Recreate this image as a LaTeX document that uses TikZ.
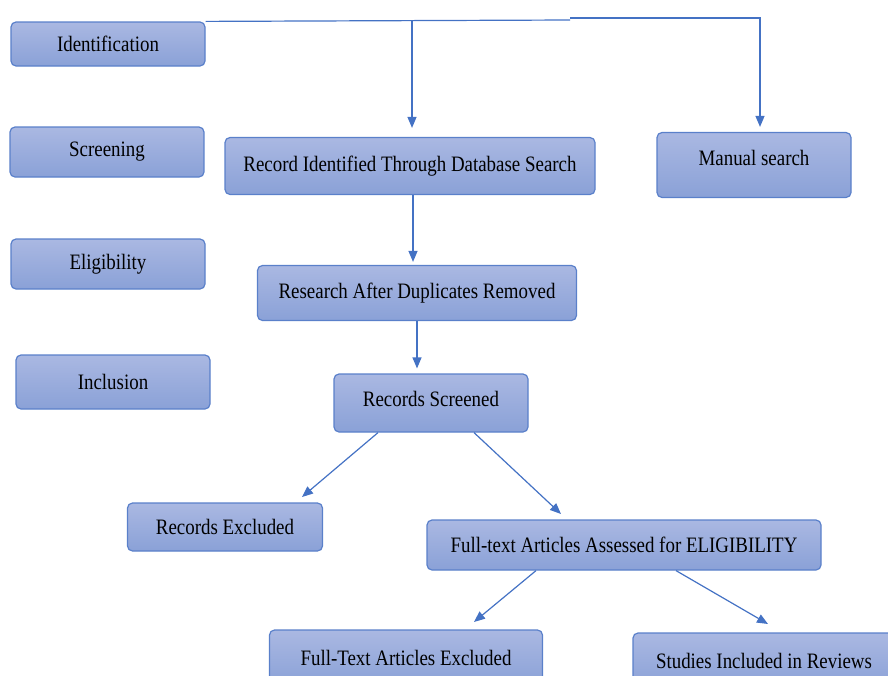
\documentclass[tikz,border=0pt]{standalone}
\usepackage{fontspec}
\setmainfont{Liberation Serif}[FakeStretch=0.86]
\usetikzlibrary{arrows.meta}
\definecolor{boxtop}{HTML}{AAB8E2}
\definecolor{boxbot}{HTML}{8AA1D7}
\definecolor{boxline}{HTML}{5A80CA}
\definecolor{flow}{HTML}{4472C4}
\tikzset{
    stagebox/.style = {rectangle, rounded corners=5pt, draw=boxline, line width=1.2pt,
        top color=boxtop, bottom color=boxbot, align=center, inner sep=0pt,
        font=\fontsize{22}{25}\selectfont},
    edgen/.style = {-{Triangle[length=11pt,width=9pt]}, line width=1.2pt, flow},
    edgel/.style = {line width=1.2pt, flow}
}
\begin{document}
\begin{tikzpicture}[x=1pt,y=-1pt]
  \useasboundingbox (0,0) rectangle (888,675);
  \clip (0,0) rectangle (888,675);

  % phases
  \node[stagebox, minimum width=194pt, minimum height=44pt] (ident) at (108,44) {Identification};
  \node[stagebox, minimum width=194pt, minimum height=50pt] (screen) at (107,152) {Screening};
  \node[stagebox, minimum width=194pt, minimum height=50pt] (elig) at (108,264) {Eligibility};
  \node[stagebox, minimum width=194pt, minimum height=54pt] (incl) at (113,382) {Inclusion};

  % flow
  \node[stagebox, minimum width=370pt, minimum height=57pt] (dbsearch) at (410,166) {Record Identified Through Database Search};
  \node[stagebox, minimum width=194pt, minimum height=65pt, text depth=14pt] (manual) at (754,165) {Manual search};
  \node[stagebox, minimum width=319pt, minimum height=55pt] (dupl) at (417,293) {Research After Duplicates Removed};
  \node[stagebox, minimum width=194pt, minimum height=58pt, text depth=8pt] (screened) at (431,403) {Records Screened};
  \node[stagebox, minimum width=195pt, minimum height=48pt] (recexcl) at (225,527) {Records Excluded};
  \node[stagebox, minimum width=394pt, minimum height=50pt] (assessed) at (624,545) {Full-text Articles Assessed for ELIGIBILITY};
  \node[stagebox, minimum width=273pt, minimum height=56pt] (ftexcl) at (406,658) {Full-Text Articles Excluded};
  \node[stagebox, minimum width=262pt, minimum height=56pt] (included) at (764,661) {Studies Included in Reviews};

  % connectors
  \coordinate (jog) at (570,20);
  \coordinate (split) at (412,20);
  \coordinate (corner) at (760,18);
  \draw[edgel] (ident.north east) -- (jog);
  \draw[edgen, shorten >=5pt] (jog) ++(0,-2) -- (corner) -- (manual.north -| corner);
  \draw[edgen, shorten >=9pt] (split) -- (dbsearch.north -| split);
  \draw[edgen, shorten >=3pt] (dbsearch.south -| 413,0) -- (dupl.north -| 413,0);
  \draw[edgen, shorten >=5pt] (dupl.south -| 417,0) -- (screened.north -| 417,0);
  \draw[edgen] (screened.south -| 378,0) -- (302,497);
  \draw[edgen] (screened.south -| 474,0) -- (561,514);
  \draw[edgen] (assessed.south -| 536,0) -- (474,622);
  \draw[edgen] (assessed.south -| 676,0) -- (768,624);
\end{tikzpicture}
\end{document}
